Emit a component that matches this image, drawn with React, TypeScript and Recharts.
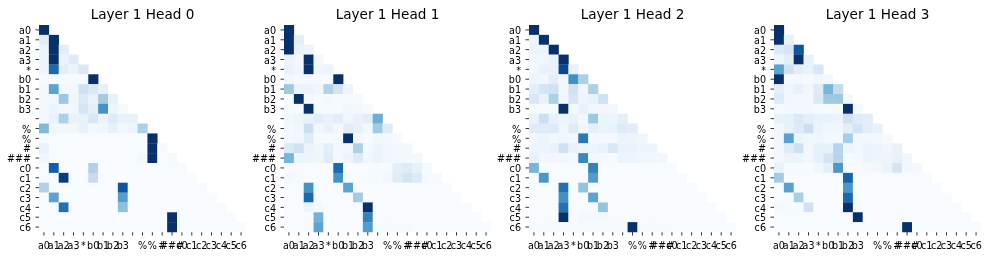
import React from "react";
import { ScatterChart, Scatter, XAxis, YAxis } from "recharts";

const tokens = ["a0","a1","a2","a3","*","b0","b1","b2","b3"," ","%","%","#","###","c0","c1","c2","c3","c4","c5","c6"];
const titles = ["Layer 1 Head 0","Layer 1 Head 1","Layer 1 Head 2","Layer 1 Head 3"];
const tickPositions = tokens.map((_, i) => i + 0.5);

const head0 = [
  [1],
  [.1,1],
  [.06,1,.1],
  [.05,1,.06,.12],
  [.05,.78,.1,.06,.15],
  [.01,.01,.01,.01,.01,1],
  [.03,.55,.03,.03,.2,.15,.08],
  [.02,.03,.38,.04,.14,.07,.36,.08],
  [.02,.05,.03,.03,.17,.1,.62,.05,.01],
  [.02,.07,.33,.07,.08,.16,.06,.12,.07,.08],
  [.45,.04,.03,.04,.08,.02,.04,.08,.03,.05,.33],
  [.01,0,0,0,0,0,0,0,0,0,0,1],
  [.07,0,0,0,0,0,0,0,0,0,0,1,.01],
  [.04,0,0,0,0,0,0,0,0,0,.02,1,0,.01],
  [0,.82,0,0,0,.32,0,0,0,0,0,0,0,0,0],
  [0,0,.95,0,0,.25,0,0,0,0,0,0,0,0,0,0],
  [.32,0,0,0,0,0,0,0,.85,0,0,0,0,0,0,0,0],
  [0,.55,0,0,0,0,0,0,.57,0,0,0,0,0,0,0,0,0],
  [0,0,.75,0,0,0,0,0,.42,0,0,0,0,0,0,0,0,0,0],
  [0,0,0,0,0,0,0,0,0,0,0,0,0,1,0,0,0,0,0,0],
  [0,0,0,0,0,0,0,0,0,0,0,0,0,1,0,0,0,0,0,0,0],
];
const head1 = [
  [1],
  [1,.1],
  [1,.07,.05],
  [.06,.03,1,.02],
  [.07,.04,1,.04,.05],
  [.03,.01,.01,.01,.01,1],
  [.38,.06,.06,.04,.32,.18,.05],
  [0,1,.02,.01,.02,.01,.01,.01],
  [.01,.01,1,.01,.01,.01,.04,.02,.01],
  [.04,.05,.08,.11,.07,.11,.04,.07,.11,.5],
  [.02,.04,.22,.03,.07,.03,.11,.08,.02,.37,.12],
  [.02,.03,.12,.01,.01,.01,1,.02,.01,.03,.02,.01],
  [.14,.2,.06,.04,.1,.02,.03,.33,.02,.06,.03,.02,.02],
  [.47,.05,.05,.04,.12,.02,.05,.13,.03,.06,.04,.03,.02,.02],
  [.01,.01,0,0,0,.78,0,0,0,.01,.01,.1,.13,.08,.01],
  [.02,.01,0,0,0,.62,0,0,0,.01,.03,.12,.18,.13,.01,.01],
  [0,0,.62,0,0,0,.55,0,0,0,0,0,0,0,0,0,0],
  [0,0,.78,0,0,0,0,.37,0,0,0,0,0,0,0,0,0,0],
  [0,0,.05,.02,0,0,0,0,1,0,0,0,0,0,0,0,0,0,0],
  [0,0,0,.48,0,0,0,0,.68,0,0,0,0,0,0,0,0,0,0,0],
  [0,0,.01,.55,0,0,0,0,.58,.01,.01,.01,.01,0,0,0,0,0,0,0,0],
];
const head2 = [
  [1],
  [.05,1],
  [.06,.05,1],
  [.03,.04,.07,1],
  [.03,.07,.07,.9,.08],
  [.05,.03,.1,.03,.63,.33],
  [.1,.17,.2,.04,.2,.04,.33],
  [.16,.07,.33,.03,.17,.05,.08,.2],
  [.01,.01,.01,1,.02,.07,.04,.03,.02],
  [.07,.22,.08,.06,.07,.02,.38,.06,.05,.09],
  [.12,.12,.13,.04,.12,.04,.09,.06,.07,.13,.11],
  [.04,.06,.03,.04,.03,.72,.02,.02,.02,.06,.05,.04],
  [.05,.05,.07,.2,.07,.06,.05,.07,.15,.07,.07,.05,.05],
  [.08,.03,.03,.03,.02,.66,.02,.02,.01,.06,.05,.04,.03,.03],
  [.47,.01,0,0,0,0,.68,0,0,0,0,0,0,0,0],
  [0,.6,0,0,0,0,.58,0,0,0,0,0,0,0,0,0],
  [0,0,0,.75,0,.4,0,0,0,0,0,0,0,0,0,0,0],
  [0,0,0,.63,0,0,.55,0,0,0,0,0,0,0,0,0,0,0],
  [0,0,0,.75,0,0,0,.4,0,0,0,0,0,0,0,0,0,0,0],
  [0,0,0,1,0,.02,.02,.02,0,0,0,0,0,0,0,0,0,0,0,0],
  [.01,.01,.01,.01,.01,.01,.01,.01,.01,.01,1,.01,.01,.01,0,0,0,0,0,0,0],
];
const head3 = [
  [1],
  [1,.08],
  [.13,.17,.85],
  [.04,.1,1,.08],
  [.55,.2,.1,.07,.16],
  [1,.01,.02,.01,.04,.02],
  [.09,.04,.08,.04,.13,.47,.25],
  [.13,.03,.03,.02,.14,.38,.38,.02],
  [.01,.02,.02,.02,.01,.01,.01,1,.01],
  [.08,.08,.14,.1,.08,.07,.06,.2,.12,.11],
  [.03,.08,.13,.22,.06,.04,.04,.1,.18,.1,.08],
  [.03,.56,.06,.04,.04,.02,.02,.35,.03,.03,.02,.01],
  [.03,.12,.2,.03,.08,.08,.3,.05,.03,.06,.05,.04,.07],
  [.03,.06,.05,.03,.08,.17,.3,.01,.02,.06,.05,.05,.08,.04],
  [.07,.01,.01,.01,.04,.09,.6,0,0,.02,.03,.06,.17,.03,.02],
  [.36,0,0,0,0,0,0,.8,0,0,0,0,0,0,0,0],
  [0,.56,0,0,0,0,0,.6,0,0,0,0,0,0,0,0,0],
  [0,0,.34,0,0,0,0,.78,0,0,0,0,0,0,0,0,0,0],
  [.02,.01,.01,.2,0,0,0,1,0,0,0,0,0,0,0,0,0,0,0],
  [0,0,0,0,0,0,0,0,1,0,0,0,0,0,0,0,0,0,0,0],
  [0,0,0,0,0,0,0,0,0,0,0,0,0,1,0,0,0,0,0,0,0],
];
const heads = [head0, head1, head2, head3];

const blues = [[247,251,255],[222,235,247],[198,219,239],[158,202,225],[107,174,214],[66,146,198],[33,113,181],[8,81,156],[8,48,107]];
function blue(v: number) {
  const p = Math.min(Math.max(v, 0), 1) * 8;
  const i = Math.min(Math.floor(p), 7);
  const t = p - i;
  const c = blues[i].map((a, k) => Math.round(a + (blues[i + 1][k] - a) * t));
  return `rgb(${c[0]},${c[1]},${c[2]})`;
}

const PLOT = 207;
const CELL = PLOT / tokens.length;
const FONT = "'DejaVu Sans'";
const tickStyle = { fontFamily: FONT, fontSize: 9.6, fill: "#000" };

function CellShape(props: any) {
  const { cx, cy, payload } = props;
  return <rect x={cx - CELL / 2} y={cy - CELL / 2} width={CELL + 0.25} height={CELL + 0.25} fill={blue(payload.v)} stroke="none" />;
}

function Panel({ rows, title, left }: { rows: number[][]; title: string; left: number }) {
  const cells = rows.flatMap((row, r) => row.map((v, c) => ({ x: c + 0.5, y: r + 0.5, v })));
  return (
    <div style={{ position: "absolute", left, top: 0, width: 247.5, height: 258, filter: "blur(0.3px)" }}>
      <div style={{ position: "absolute", left: 39, width: PLOT, top: 6, textAlign: "center", fontFamily: FONT, fontSize: 13.6, lineHeight: "16px", color: "#000", whiteSpace: "nowrap" }}>{title}</div>
      <ScatterChart width={247.5} height={258} margin={{ top: 25, right: 1.5, left: 0, bottom: 0 }}>
        <XAxis type="number" dataKey="x" domain={[0, 21]} ticks={tickPositions} interval={0} height={26} axisLine={false} tickSize={3.5} tickMargin={6.3} tick={tickStyle} tickLine={{ stroke: "#000", strokeWidth: 0.8 }} tickFormatter={(v: number) => tokens[Math.floor(v)]} />
        <YAxis type="number" dataKey="y" domain={[0, 21]} reversed ticks={tickPositions} interval={0} width={39} axisLine={false} tickSize={3.5} tickMargin={4.5} tick={{ ...tickStyle, dy: 0.8 }} tickLine={{ stroke: "#000", strokeWidth: 0.8 }} tickFormatter={(v: number) => tokens[Math.floor(v)]} />
        <Scatter data={cells} isAnimationActive={false} shape={CellShape} />
      </ScatterChart>
    </div>
  );
}

export default function App() {
  return (
    <div style={{ position: "absolute", left: 0, top: 0, width: 990, height: 258, background: "#fff", overflow: "hidden" }}>
      {heads.map((rows, i) => (
        <Panel key={i} rows={rows} title={titles[i]} left={i * 245} />
      ))}
    </div>
  );
}
